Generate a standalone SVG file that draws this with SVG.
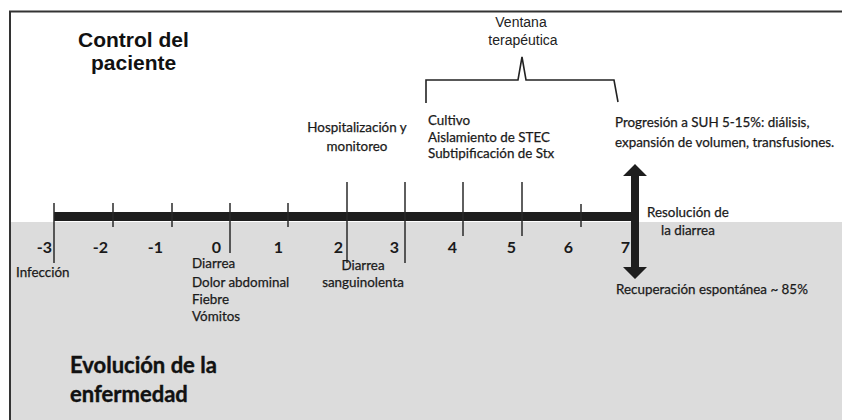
<svg xmlns="http://www.w3.org/2000/svg" width="842" height="420" viewBox="0 0 842 420">
<style>
.lbl{font-family:Lato,"Open Sans","Liberation Sans",sans-serif;font-size:13.4px;fill:#1a1a1a;stroke:#1a1a1a;stroke-width:0.25}
.num{font-family:Lato,"Open Sans","Liberation Sans",sans-serif;font-size:16px;font-weight:bold;fill:#1a1a1a}
.ttl{font-family:"Liberation Sans",Arial,sans-serif;font-size:21px;font-weight:bold;fill:#111}
.ttl2{font-family:Lato,"Open Sans",sans-serif;font-size:22px;font-weight:bold;fill:#111;stroke:#111;stroke-width:0.4}
.vt{font-family:"Liberation Sans",Arial,sans-serif;font-size:14px;fill:#222}
.tick{stroke:#2a2a2a;stroke-width:1.5}
</style>
<rect x="0" y="0" width="842" height="420" fill="#fff"/>
<g id="background">
<rect x="11" y="222" width="831" height="198" fill="#dcdcdc"/>
<path d="M10,420 V11.5 H842" fill="none" stroke="#333" stroke-width="2"/>
</g>
<g id="connectors">
<rect x="54" y="212" width="582" height="9" fill="#1e1e1e"/>
<line class="tick" x1="54" y1="203" x2="54" y2="263"/>
<line class="tick" x1="113" y1="203" x2="113" y2="227"/>
<line class="tick" x1="172" y1="203" x2="172" y2="227"/>
<line class="tick" x1="230" y1="203" x2="230" y2="253"/>
<line class="tick" x1="288" y1="203" x2="288" y2="227"/>
<line class="tick" x1="347" y1="182" x2="347" y2="263"/>
<line class="tick" x1="405" y1="182" x2="405" y2="263"/>
<line class="tick" x1="463" y1="182" x2="463" y2="236"/>
<line class="tick" x1="522" y1="182" x2="522" y2="236"/>
<line class="tick" x1="581" y1="204" x2="581" y2="227"/>
<path id="arrow" d="M635,164 L647,176 L639,176 L639,267 L647,267 L635,279 L623,267 L631,267 L631,176 L623,176 Z" fill="#1e1e1e"/>
<path id="bracket" d="M426,103 L426,80 L518,80 L522,57 L526,80 L614,80 L618,102" fill="none" stroke="#222" stroke-width="1.6" stroke-linejoin="miter"/>
</g>
<g id="control-paciente">
<text class="ttl" x="78" y="47">Control del</text>
<text class="ttl" x="91" y="70">paciente</text>
</g>
<g id="ventana">
<text class="vt" x="521" y="27" text-anchor="middle">Ventana</text>
<text class="vt" x="523" y="45" text-anchor="middle">terapéutica</text>
</g>
<g id="hospitalizacion">
<text class="lbl" x="357" y="132" text-anchor="middle">Hospitalización y</text>
<text class="lbl" x="357" y="151" text-anchor="middle">monitoreo</text>
</g>
<g id="cultivo">
<text class="lbl" x="428" y="125">Cultivo</text>
<text class="lbl" x="428" y="142">Aislamiento de STEC</text>
<text class="lbl" x="428" y="158">Subtipificación de Stx</text>
</g>
<g id="progresion">
<text class="lbl" x="615" y="127">Progresión a SUH 5-15%: diálisis,</text>
<text class="lbl" x="615" y="147">expansión de volumen, transfusiones.</text>
</g>
<g id="resolucion">
<text class="lbl" x="647" y="217">Resolución de</text>
<text class="lbl" x="661" y="235">la diarrea</text>
</g>
<g id="numbers">
<text class="num" x="52" y="253" text-anchor="end">-3</text>
<text class="num" x="108" y="253" text-anchor="end">-2</text>
<text class="num" x="163" y="253" text-anchor="end">-1</text>
<text class="num" x="221" y="253" text-anchor="end">0</text>
<text class="num" x="283" y="253" text-anchor="end">1</text>
<text class="num" x="343" y="253" text-anchor="end">2</text>
<text class="num" x="399" y="253" text-anchor="end">3</text>
<text class="num" x="457" y="253" text-anchor="end">4</text>
<text class="num" x="516" y="253" text-anchor="end">5</text>
<text class="num" x="573" y="253" text-anchor="end">6</text>
<text class="num" x="630" y="253" text-anchor="end">7</text>
</g>
<g id="infeccion">
<text class="lbl" x="16" y="277">Infección</text>
</g>
<g id="sintomas">
<text class="lbl" x="192" y="268">Diarrea</text>
<text class="lbl" x="192" y="287">Dolor abdominal</text>
<text class="lbl" x="192" y="304">Fiebre</text>
<text class="lbl" x="192" y="321">Vómitos</text>
</g>
<g id="diarrea-sanguinolenta">
<text class="lbl" x="363" y="270" text-anchor="middle">Diarrea</text>
<text class="lbl" x="363" y="287" text-anchor="middle">sanguinolenta</text>
</g>
<g id="recuperacion">
<text class="lbl" x="616" y="294">Recuperación espontánea ~ 85%</text>
</g>
<g id="evolucion">
<text class="ttl2" x="70" y="373">Evolución de la</text>
<text class="ttl2" x="70" y="402">enfermedad</text>
</g>
</svg>
